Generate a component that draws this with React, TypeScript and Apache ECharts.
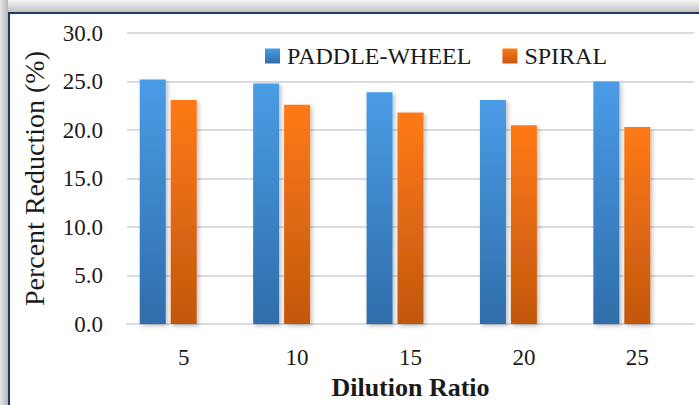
import React, { useEffect, useRef } from "react";
import * as echarts from "echarts";

const categories = ["5", "10", "15", "20", "25"];
const paddleWheel = [25.2, 24.8, 23.9, 23.1, 25.0];
const spiral = [23.1, 22.6, 21.8, 20.5, 20.3];
const spacer = [0, 0, 0, 0, 0];
const yTicks = { min: 0, max: 30, interval: 5 };

const FONT = "'Liberation Serif', 'Times New Roman', serif";

export default function App() {
  const ref = useRef<HTMLDivElement>(null);
  useEffect(() => {
    if (!ref.current) return;
    const chart = echarts.init(ref.current, null, { renderer: "svg", width: 699, height: 405 });
    const grad = (top: string, bottom: string) =>
      new echarts.graphic.LinearGradient(0, 0, 0, 1, [
        { offset: 0, color: top },
        { offset: 1, color: bottom },
      ]);
    const shadow = {
      shadowBlur: 4,
      shadowColor: "rgba(0,0,0,0.25)",
      shadowOffsetX: 2,
      shadowOffsetY: 2,
    };
    chart.setOption({
      animation: false,
      backgroundColor: "#ffffff",
      textStyle: { fontFamily: FONT },
      graphic: [
        {
          type: "rect",
          shape: { x: 0, y: 0, width: 699, height: 13 },
          style: {
            fill: new echarts.graphic.LinearGradient(0, 0, 0, 1, [
              { offset: 0, color: "#f4f4f4" },
              { offset: 1, color: "#bdbdbd" },
            ]),
          },
          silent: true,
        },
        {
          type: "rect",
          shape: { x: 0, y: 0, width: 8, height: 405 },
          style: {
            fill: new echarts.graphic.LinearGradient(0, 0, 1, 0, [
              { offset: 0, color: "#e6e6e6" },
              { offset: 1, color: "#b5b5b5" },
            ]),
          },
          silent: true,
        },
        {
          type: "rect",
          shape: { x: 8, y: 12, width: 691, height: 2 },
          style: { fill: "#1F3864" },
          silent: true,
        },
        {
          type: "rect",
          shape: { x: 8, y: 12, width: 2, height: 393 },
          style: { fill: "#1F3864" },
          silent: true,
        },
      ],
      legend: {
        data: ["PADDLE-WHEEL", "SPIRAL"],
        left: 260,
        top: 39,
        icon: "rect",
        itemWidth: 15,
        itemHeight: 15,
        itemGap: 31,
        textStyle: { fontFamily: FONT, fontSize: 24, color: "#1a1a1a", padding: [0, 0, 0, 2] },
      },
      grid: { left: 127, width: 567, top: 33, height: 300, containLabel: false },
      xAxis: {
        type: "category",
        data: categories,
        axisLine: { show: true, lineStyle: { color: "#D9DDE3", width: 2 } },
        axisTick: { show: false },
        axisLabel: { fontFamily: FONT, fontSize: 23, color: "#1a1a1a", margin: 22 },
        name: "Dilution Ratio",
        nameLocation: "middle",
        nameGap: 45,
        nameTextStyle: { fontFamily: FONT, fontSize: 26, fontWeight: "bold", color: "#1a1a1a" },
      },
      yAxis: {
        type: "value",
        min: yTicks.min,
        max: yTicks.max,
        interval: yTicks.interval,
        axisLine: { show: false },
        axisTick: { show: false },
        splitLine: { lineStyle: { color: "#D9DDE3", width: 2 } },
        axisLabel: {
          fontFamily: FONT,
          fontSize: 23,
          color: "#1a1a1a",
          margin: 24,
          formatter: (v: number) => v.toFixed(1),
        },
        name: "Percent Reduction (%)",
        nameLocation: "middle",
        nameGap: 79,
        nameTextStyle: { fontFamily: FONT, fontSize: 28, color: "#1a1a1a" },
      },
      series: [
        {
          name: "PADDLE-WHEEL",
          type: "bar",
          data: paddleWheel,
          barWidth: 26,
          barGap: "19%",
          itemStyle: { color: grad("#4A9CE6", "#2F6DAA"), ...shadow },
        },
        {
          name: "SPIRAL",
          type: "bar",
          data: spiral,
          barWidth: 26,
          barGap: "19%",
          itemStyle: { color: grad("#FF7A16", "#C2570F"), ...shadow },
        },
        {
          name: "spacer",
          type: "bar",
          data: spacer,
          barWidth: 26,
          barGap: "19%",
          silent: true,
          itemStyle: { color: "rgba(0,0,0,0)" },
        },
      ],
    });
    return () => chart.dispose();
  }, []);
  return (
    <div
      ref={ref}
      style={{ position: "absolute", left: 0, top: 0, width: 699, height: 405 }}
    />
  );
}
